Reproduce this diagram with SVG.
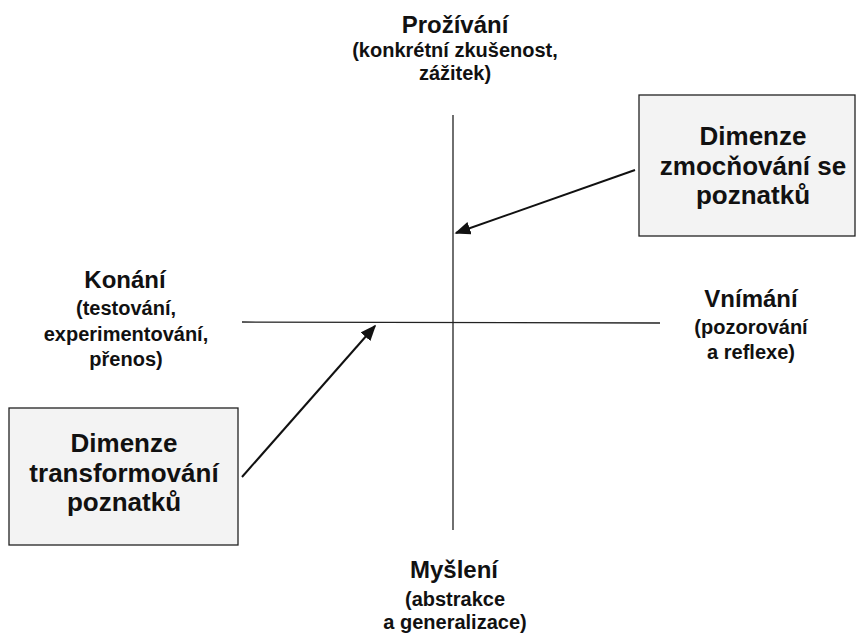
<svg xmlns="http://www.w3.org/2000/svg" width="857" height="635" viewBox="0 0 857 635">
<style>
text{font-family:"Liberation Sans",Arial,sans-serif;font-weight:700;fill:#111;text-anchor:middle}
.t{font-size:24px}
.s{font-size:20px}
.b{font-size:26px}
.box{fill:#f3f3f3;stroke:#222;stroke-width:1.3}
.ax{stroke:#222;stroke-width:1.3;fill:none}
.ar{stroke:#111;stroke-width:2;fill:none;marker-end:url(#ah)}
</style>
<defs>
<marker id="ah" viewBox="0 0 10 10" refX="9" refY="5" markerWidth="16" markerHeight="13" markerUnits="userSpaceOnUse" orient="auto" preserveAspectRatio="none">
<path d="M0,0 L10,5 L0,10 z" fill="#111"/>
</marker>
</defs>
<rect width="857" height="635" fill="#fff"/>
<g id="connectors">
<line class="ax" x1="453" y1="115" x2="453" y2="530"/>
<line class="ax" x1="242" y1="322" x2="660" y2="323"/>
<line class="ar" x1="635" y1="170" x2="456" y2="233"/>
<line class="ar" x1="242" y1="477" x2="375" y2="326"/>
</g>
<g id="top">
<text class="t" x="455" y="33">Prožívání</text>
<text class="s" x="455" y="57">(konkrétní zkušenost,</text>
<text class="s" x="455" y="80">zážitek)</text>
</g>
<g id="left">
<text class="t" x="125" y="288">Konání</text>
<text class="s" x="126" y="315">(testování,</text>
<text class="s" x="126" y="341">experimentování,</text>
<text class="s" x="126" y="366">přenos)</text>
</g>
<g id="right">
<text class="t" x="751" y="307">Vnímání</text>
<text class="s" x="751" y="334">(pozorování</text>
<text class="s" x="751" y="359">a reflexe)</text>
</g>
<g id="bottom">
<text class="t" x="454" y="578">Myšlení</text>
<text class="s" x="455" y="606">(abstrakce</text>
<text class="s" x="455" y="629">a generalizace)</text>
</g>
<g id="box-zmocnovani">
<rect class="box" x="639" y="95" width="216" height="141"/>
<text class="b" x="753" y="145">Dimenze</text>
<text class="b" x="753" y="175">zmocňování se</text>
<text class="b" x="753" y="204">poznatků</text>
</g>
<g id="box-transformovani">
<rect class="box" x="9" y="408" width="229" height="137"/>
<text class="b" x="124" y="452">Dimenze</text>
<text class="b" x="124" y="482">transformování</text>
<text class="b" x="124" y="511">poznatků</text>
</g>
</svg>
